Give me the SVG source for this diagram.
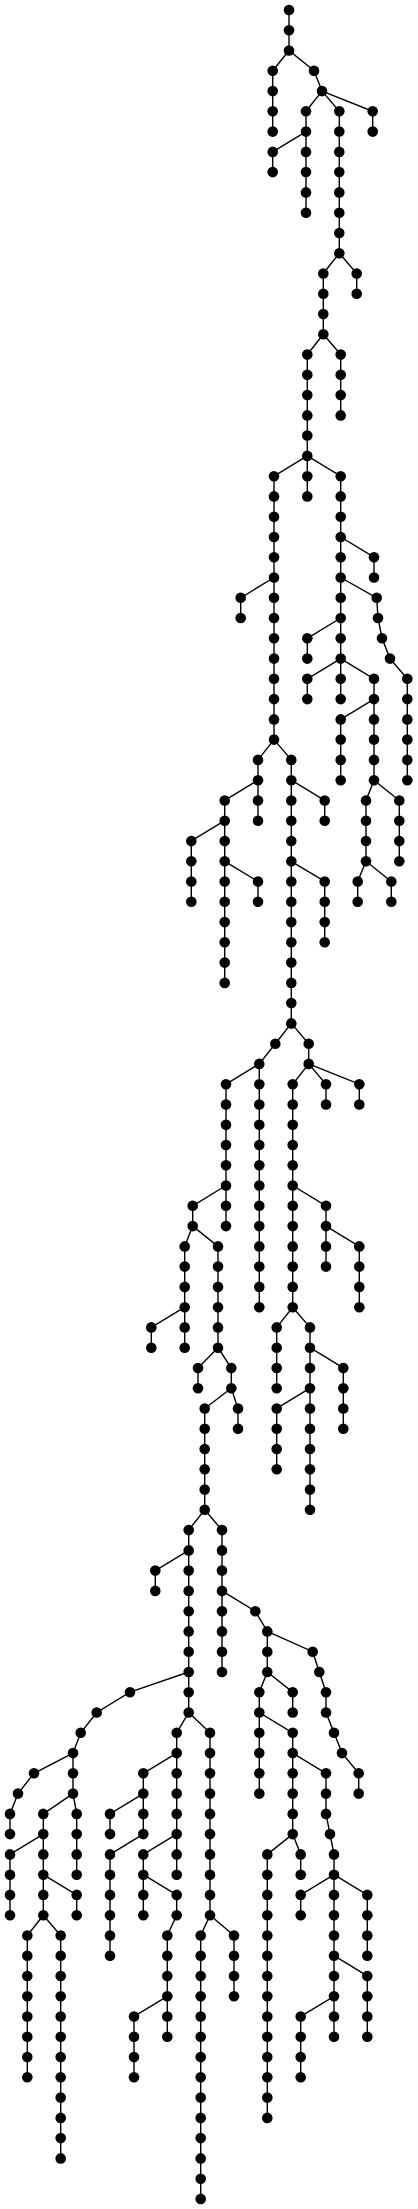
<svg xmlns="http://www.w3.org/2000/svg" width="418" height="2209" viewBox="0 0 418 2209">
<style>
.e polyline{fill:none;stroke:#000;stroke-width:1.4}
.n circle{fill:#000}
</style>
<rect width="418" height="2209" fill="#fff"/>
<g id="connectors" class="e">
<polyline points="289,10 289,50.5"/>
<polyline points="289,50.5 272.7,70.8 272.7,131.6"/>
<polyline points="289,50.5 314,70.8 322,91.1"/>
<polyline points="322,91.1 306,111.3 306,212.7"/>
<polyline points="306,131.6 272.7,151.9 272.7,172.1"/>
<polyline points="322,91.1 339.3,111.3 339.3,253.2"/>
<polyline points="322,91.1 372.7,111.3 372.7,131.6"/>
<polyline points="339.3,253.2 323.3,273.5 323.3,334.3"/>
<polyline points="339.3,253.2 356.7,273.5 356.7,293.8"/>
<polyline points="323.3,334.3 307.3,354.6 307.3,455.9"/>
<polyline points="323.3,334.3 340.7,354.6 340.7,415.4"/>
<polyline points="307.3,455.9 274,476.2 274,739.6"/>
<polyline points="274,577.5 240.7,597.8 240.7,618"/>
<polyline points="307.3,455.9 307.3,496.4"/>
<polyline points="307.3,455.9 340.7,476.2 340.7,699.1"/>
<polyline points="340.7,537 374,557.2 374,577.5"/>
<polyline points="340.7,577.5 376.7,597.8 378,618 382,638.3 390,658.6 407.3,678.8 407.3,780.2"/>
<polyline points="340.7,618 307.3,638.3 307.3,658.6"/>
<polyline points="340.7,658.6 307.3,678.8 307.3,699.1"/>
<polyline points="340.7,658.6 374,678.8 374,780.2"/>
<polyline points="374,699.1 340.7,719.4 340.7,780.2"/>
<polyline points="374,780.2 366,800.5 366,861.3"/>
<polyline points="374,780.2 399.3,800.5 399.3,861.3"/>
<polyline points="366,861.3 357.7,881.5 357.7,901.8"/>
<polyline points="366,861.3 391.3,881.5 391.3,901.8"/>
<polyline points="274,739.6 258,759.9 258,820.7"/>
<polyline points="258,780.2 224.7,800.5 224.7,982.9"/>
<polyline points="224.7,820.7 191.3,841 191.3,901.8"/>
<polyline points="224.7,861.3 258,881.5 258,901.8"/>
<polyline points="274,739.6 291.3,759.9 291.3,1023.4"/>
<polyline points="291.3,780.2 324.7,800.5 324.7,820.7"/>
<polyline points="291.3,861.3 324.7,881.5 324.7,942.3"/>
<polyline points="291.3,1023.4 275.3,1043.7 259.3,1063.9"/>
<polyline points="291.3,1023.4 308.7,1043.7 308.7,1063.9"/>
<polyline points="259.3,1063.9 226,1084.2 226,1226.1"/>
<polyline points="259.3,1063.9 259.3,1307.2"/>
<polyline points="308.7,1063.9 292.7,1084.2 292.7,1307.2"/>
<polyline points="308.7,1063.9 326,1084.2 326,1104.5"/>
<polyline points="308.7,1063.9 359.3,1084.2 359.3,1104.5"/>
<polyline points="226,1185.5 192.7,1205.8 192.7,1226.1"/>
<polyline points="192.7,1226.1 184.7,1246.4 184.7,1347.7"/>
<polyline points="192.7,1226.1 218,1246.4 218,1347.7"/>
<polyline points="292.7,1185.5 326,1205.8 326,1266.6"/>
<polyline points="326,1226.1 359.3,1246.4 359.3,1307.2"/>
<polyline points="184.7,1307.2 151.3,1327.4 151.3,1347.7"/>
<polyline points="292.7,1307.2 276.7,1327.4 276.7,1388.2"/>
<polyline points="292.7,1307.2 310,1327.4 310,1509.8"/>
<polyline points="218,1347.7 198,1368 198,1388.2"/>
<polyline points="218,1347.7 231.3,1368 231.3,1388.2"/>
<polyline points="231.3,1388.2 204.7,1408.5 204.7,1509.8"/>
<polyline points="231.3,1388.2 238,1408.5 238,1428.8"/>
<polyline points="310,1347.7 343.3,1368 343.3,1428.8"/>
<polyline points="310,1388.2 276.7,1408.5 276.7,1469.3"/>
<polyline points="204.7,1509.8 188.7,1530.1 188.7,1712.5"/>
<polyline points="204.7,1509.8 222,1530.1 222,1672"/>
<polyline points="188.7,1550.4 155.3,1570.6 155.3,1590.9"/>
<polyline points="222,1590.9 255.3,1611.2 267.3,1631.4"/>
<polyline points="267.3,1631.4 267.3,1672"/>
<polyline points="267.3,1631.4 312.7,1651.7 319.3,1672 326,1692.2 326,1712.5 334,1732.8 342,1753.1 358.7,1773.3 358.7,1793.6"/>
<polyline points="267.3,1672 259.3,1692.2 259.3,1793.6"/>
<polyline points="267.3,1672 292.7,1692.2 292.7,1712.5"/>
<polyline points="259.3,1712.5 292.7,1732.8 292.7,1834.1"/>
<polyline points="292.7,1753.1 326,1773.3 326,1813.9 330,1834.1 334,1854.4 334,1874.7"/>
<polyline points="334,1874.7 300.7,1894.9 300.7,1915.2"/>
<polyline points="334,1874.7 334,2036.8"/>
<polyline points="334,1874.7 367.3,1894.9 367.3,1955.7"/>
<polyline points="334,1955.7 367.3,1976 367.3,2036.8"/>
<polyline points="334,1996.3 300.7,2016.5 300.7,2077.3"/>
<polyline points="292.7,1834.1 267.3,1854.4 267.3,2117.9"/>
<polyline points="292.7,1834.1 300.7,1854.4 300.7,1874.7"/>
<polyline points="188.7,1672 130,1692.2 96.7,1712.5 80.7,1732.8 73,1753.1"/>
<polyline points="73,1753.1 34,1773.3 18,1793.6 10,1813.9 10,1834.1"/>
<polyline points="73,1753.1 73,1793.6"/>
<polyline points="73,1793.6 43.3,1813.9 43.3,1915.2"/>
<polyline points="73,1793.6 76.7,1813.9 76.7,1874.7"/>
<polyline points="43.3,1834.1 10,1854.4 10,1915.2"/>
<polyline points="43.3,1874.7 76.7,1894.9 76.7,1915.2"/>
<polyline points="43.3,1915.2 27.3,1935.5 27.3,2077.3"/>
<polyline points="43.3,1915.2 60.7,1935.5 60.7,2158.4"/>
<polyline points="188.7,1712.5 176.7,1732.8 176.7,1834.1"/>
<polyline points="188.7,1712.5 210,1732.8 210,1915.2"/>
<polyline points="176.7,1753.1 143.3,1773.3 143.3,1834.1"/>
<polyline points="143.3,1793.6 110,1813.9 110,1834.1"/>
<polyline points="143.3,1834.1 110,1854.4 110,1955.7"/>
<polyline points="176.7,1834.1 143.3,1854.4 143.3,1915.2"/>
<polyline points="176.7,1834.1 176.7,1874.7"/>
<polyline points="143.3,1874.7 176.7,1894.9 176.7,1915.2 167.3,1935.5 167.3,2036.8"/>
<polyline points="167.3,1996.3 134,2016.5 134,2077.3"/>
<polyline points="210,1915.2 200.7,1935.5 200.7,2198.9"/>
<polyline points="210,1915.2 234,1935.5 234,1996.3"/>
</g>
<g id="nodes" class="n">
<g id="n1"><circle cx="289" cy="10" r="5.3"/></g>
<g id="n2"><circle cx="289" cy="30.3" r="5.3"/></g>
<g id="n3"><circle cx="289" cy="50.5" r="5.3"/></g>
<g id="n4"><circle cx="272.7" cy="70.8" r="5.3"/></g>
<g id="n5"><circle cx="272.7" cy="91.1" r="5.3"/></g>
<g id="n6"><circle cx="272.7" cy="111.3" r="5.3"/></g>
<g id="n7"><circle cx="272.7" cy="131.6" r="5.3"/></g>
<g id="n8"><circle cx="314" cy="70.8" r="5.3"/></g>
<g id="n9"><circle cx="322" cy="91.1" r="5.3"/></g>
<g id="n10"><circle cx="306" cy="111.3" r="5.3"/></g>
<g id="n11"><circle cx="306" cy="131.6" r="5.3"/></g>
<g id="n12"><circle cx="306" cy="151.9" r="5.3"/></g>
<g id="n13"><circle cx="306" cy="172.1" r="5.3"/></g>
<g id="n14"><circle cx="306" cy="192.4" r="5.3"/></g>
<g id="n15"><circle cx="306" cy="212.7" r="5.3"/></g>
<g id="n16"><circle cx="272.7" cy="151.9" r="5.3"/></g>
<g id="n17"><circle cx="272.7" cy="172.1" r="5.3"/></g>
<g id="n18"><circle cx="339.3" cy="111.3" r="5.3"/></g>
<g id="n19"><circle cx="339.3" cy="131.6" r="5.3"/></g>
<g id="n20"><circle cx="339.3" cy="151.9" r="5.3"/></g>
<g id="n21"><circle cx="339.3" cy="172.1" r="5.3"/></g>
<g id="n22"><circle cx="339.3" cy="192.4" r="5.3"/></g>
<g id="n23"><circle cx="339.3" cy="212.7" r="5.3"/></g>
<g id="n24"><circle cx="339.3" cy="233" r="5.3"/></g>
<g id="n25"><circle cx="339.3" cy="253.2" r="5.3"/></g>
<g id="n26"><circle cx="372.7" cy="111.3" r="5.3"/></g>
<g id="n27"><circle cx="372.7" cy="131.6" r="5.3"/></g>
<g id="n28"><circle cx="323.3" cy="273.5" r="5.3"/></g>
<g id="n29"><circle cx="323.3" cy="293.8" r="5.3"/></g>
<g id="n30"><circle cx="323.3" cy="314" r="5.3"/></g>
<g id="n31"><circle cx="323.3" cy="334.3" r="5.3"/></g>
<g id="n32"><circle cx="356.7" cy="273.5" r="5.3"/></g>
<g id="n33"><circle cx="356.7" cy="293.8" r="5.3"/></g>
<g id="n34"><circle cx="307.3" cy="354.6" r="5.3"/></g>
<g id="n35"><circle cx="307.3" cy="374.8" r="5.3"/></g>
<g id="n36"><circle cx="307.3" cy="395.1" r="5.3"/></g>
<g id="n37"><circle cx="307.3" cy="415.4" r="5.3"/></g>
<g id="n38"><circle cx="307.3" cy="435.6" r="5.3"/></g>
<g id="n39"><circle cx="307.3" cy="455.9" r="5.3"/></g>
<g id="n40"><circle cx="340.7" cy="354.6" r="5.3"/></g>
<g id="n41"><circle cx="340.7" cy="374.8" r="5.3"/></g>
<g id="n42"><circle cx="340.7" cy="395.1" r="5.3"/></g>
<g id="n43"><circle cx="340.7" cy="415.4" r="5.3"/></g>
<g id="n44"><circle cx="274" cy="476.2" r="5.3"/></g>
<g id="n45"><circle cx="274" cy="496.4" r="5.3"/></g>
<g id="n46"><circle cx="274" cy="516.7" r="5.3"/></g>
<g id="n47"><circle cx="274" cy="537" r="5.3"/></g>
<g id="n48"><circle cx="274" cy="557.2" r="5.3"/></g>
<g id="n49"><circle cx="274" cy="577.5" r="5.3"/></g>
<g id="n50"><circle cx="274" cy="597.8" r="5.3"/></g>
<g id="n51"><circle cx="274" cy="618" r="5.3"/></g>
<g id="n52"><circle cx="274" cy="638.3" r="5.3"/></g>
<g id="n53"><circle cx="274" cy="658.6" r="5.3"/></g>
<g id="n54"><circle cx="274" cy="678.8" r="5.3"/></g>
<g id="n55"><circle cx="274" cy="699.1" r="5.3"/></g>
<g id="n56"><circle cx="274" cy="719.4" r="5.3"/></g>
<g id="n57"><circle cx="274" cy="739.6" r="5.3"/></g>
<g id="n58"><circle cx="240.7" cy="597.8" r="5.3"/></g>
<g id="n59"><circle cx="240.7" cy="618" r="5.3"/></g>
<g id="n60"><circle cx="307.3" cy="476.2" r="5.3"/></g>
<g id="n61"><circle cx="307.3" cy="496.4" r="5.3"/></g>
<g id="n62"><circle cx="340.7" cy="476.2" r="5.3"/></g>
<g id="n63"><circle cx="340.7" cy="496.4" r="5.3"/></g>
<g id="n64"><circle cx="340.7" cy="516.7" r="5.3"/></g>
<g id="n65"><circle cx="340.7" cy="537" r="5.3"/></g>
<g id="n66"><circle cx="340.7" cy="557.2" r="5.3"/></g>
<g id="n67"><circle cx="340.7" cy="577.5" r="5.3"/></g>
<g id="n68"><circle cx="340.7" cy="597.8" r="5.3"/></g>
<g id="n69"><circle cx="340.7" cy="618" r="5.3"/></g>
<g id="n70"><circle cx="340.7" cy="638.3" r="5.3"/></g>
<g id="n71"><circle cx="340.7" cy="658.6" r="5.3"/></g>
<g id="n72"><circle cx="340.7" cy="678.8" r="5.3"/></g>
<g id="n73"><circle cx="340.7" cy="699.1" r="5.3"/></g>
<g id="n74"><circle cx="374" cy="557.2" r="5.3"/></g>
<g id="n75"><circle cx="374" cy="577.5" r="5.3"/></g>
<g id="n76"><circle cx="376.7" cy="597.8" r="5.3"/></g>
<g id="n77"><circle cx="378" cy="618" r="5.3"/></g>
<g id="n78"><circle cx="382" cy="638.3" r="5.3"/></g>
<g id="n79"><circle cx="390" cy="658.6" r="5.3"/></g>
<g id="n80"><circle cx="407.3" cy="678.8" r="5.3"/></g>
<g id="n81"><circle cx="407.3" cy="699.1" r="5.3"/></g>
<g id="n82"><circle cx="407.3" cy="719.4" r="5.3"/></g>
<g id="n83"><circle cx="407.3" cy="739.6" r="5.3"/></g>
<g id="n84"><circle cx="407.3" cy="759.9" r="5.3"/></g>
<g id="n85"><circle cx="407.3" cy="780.2" r="5.3"/></g>
<g id="n86"><circle cx="307.3" cy="638.3" r="5.3"/></g>
<g id="n87"><circle cx="307.3" cy="658.6" r="5.3"/></g>
<g id="n88"><circle cx="307.3" cy="678.8" r="5.3"/></g>
<g id="n89"><circle cx="307.3" cy="699.1" r="5.3"/></g>
<g id="n90"><circle cx="374" cy="678.8" r="5.3"/></g>
<g id="n91"><circle cx="374" cy="699.1" r="5.3"/></g>
<g id="n92"><circle cx="374" cy="719.4" r="5.3"/></g>
<g id="n93"><circle cx="374" cy="739.6" r="5.3"/></g>
<g id="n94"><circle cx="374" cy="759.9" r="5.3"/></g>
<g id="n95"><circle cx="374" cy="780.2" r="5.3"/></g>
<g id="n96"><circle cx="340.7" cy="719.4" r="5.3"/></g>
<g id="n97"><circle cx="340.7" cy="739.6" r="5.3"/></g>
<g id="n98"><circle cx="340.7" cy="759.9" r="5.3"/></g>
<g id="n99"><circle cx="340.7" cy="780.2" r="5.3"/></g>
<g id="n100"><circle cx="366" cy="800.5" r="5.3"/></g>
<g id="n101"><circle cx="366" cy="820.7" r="5.3"/></g>
<g id="n102"><circle cx="366" cy="841" r="5.3"/></g>
<g id="n103"><circle cx="366" cy="861.3" r="5.3"/></g>
<g id="n104"><circle cx="399.3" cy="800.5" r="5.3"/></g>
<g id="n105"><circle cx="399.3" cy="820.7" r="5.3"/></g>
<g id="n106"><circle cx="399.3" cy="841" r="5.3"/></g>
<g id="n107"><circle cx="399.3" cy="861.3" r="5.3"/></g>
<g id="n108"><circle cx="357.7" cy="881.5" r="5.3"/></g>
<g id="n109"><circle cx="357.7" cy="901.8" r="5.3"/></g>
<g id="n110"><circle cx="391.3" cy="881.5" r="5.3"/></g>
<g id="n111"><circle cx="391.3" cy="901.8" r="5.3"/></g>
<g id="n112"><circle cx="258" cy="759.9" r="5.3"/></g>
<g id="n113"><circle cx="258" cy="780.2" r="5.3"/></g>
<g id="n114"><circle cx="258" cy="800.5" r="5.3"/></g>
<g id="n115"><circle cx="258" cy="820.7" r="5.3"/></g>
<g id="n116"><circle cx="224.7" cy="800.5" r="5.3"/></g>
<g id="n117"><circle cx="224.7" cy="820.7" r="5.3"/></g>
<g id="n118"><circle cx="224.7" cy="841" r="5.3"/></g>
<g id="n119"><circle cx="224.7" cy="861.3" r="5.3"/></g>
<g id="n120"><circle cx="224.7" cy="881.5" r="5.3"/></g>
<g id="n121"><circle cx="224.7" cy="901.8" r="5.3"/></g>
<g id="n122"><circle cx="224.7" cy="922.1" r="5.3"/></g>
<g id="n123"><circle cx="224.7" cy="942.3" r="5.3"/></g>
<g id="n124"><circle cx="224.7" cy="962.6" r="5.3"/></g>
<g id="n125"><circle cx="224.7" cy="982.9" r="5.3"/></g>
<g id="n126"><circle cx="191.3" cy="841" r="5.3"/></g>
<g id="n127"><circle cx="191.3" cy="861.3" r="5.3"/></g>
<g id="n128"><circle cx="191.3" cy="881.5" r="5.3"/></g>
<g id="n129"><circle cx="191.3" cy="901.8" r="5.3"/></g>
<g id="n130"><circle cx="258" cy="881.5" r="5.3"/></g>
<g id="n131"><circle cx="258" cy="901.8" r="5.3"/></g>
<g id="n132"><circle cx="291.3" cy="759.9" r="5.3"/></g>
<g id="n133"><circle cx="291.3" cy="780.2" r="5.3"/></g>
<g id="n134"><circle cx="291.3" cy="800.5" r="5.3"/></g>
<g id="n135"><circle cx="291.3" cy="820.7" r="5.3"/></g>
<g id="n136"><circle cx="291.3" cy="841" r="5.3"/></g>
<g id="n137"><circle cx="291.3" cy="861.3" r="5.3"/></g>
<g id="n138"><circle cx="291.3" cy="881.5" r="5.3"/></g>
<g id="n139"><circle cx="291.3" cy="901.8" r="5.3"/></g>
<g id="n140"><circle cx="291.3" cy="922.1" r="5.3"/></g>
<g id="n141"><circle cx="291.3" cy="942.3" r="5.3"/></g>
<g id="n142"><circle cx="291.3" cy="962.6" r="5.3"/></g>
<g id="n143"><circle cx="291.3" cy="982.9" r="5.3"/></g>
<g id="n144"><circle cx="291.3" cy="1003.1" r="5.3"/></g>
<g id="n145"><circle cx="291.3" cy="1023.4" r="5.3"/></g>
<g id="n146"><circle cx="324.7" cy="800.5" r="5.3"/></g>
<g id="n147"><circle cx="324.7" cy="820.7" r="5.3"/></g>
<g id="n148"><circle cx="324.7" cy="881.5" r="5.3"/></g>
<g id="n149"><circle cx="324.7" cy="901.8" r="5.3"/></g>
<g id="n150"><circle cx="324.7" cy="922.1" r="5.3"/></g>
<g id="n151"><circle cx="324.7" cy="942.3" r="5.3"/></g>
<g id="n152"><circle cx="275.3" cy="1043.7" r="5.3"/></g>
<g id="n153"><circle cx="259.3" cy="1063.9" r="5.3"/></g>
<g id="n154"><circle cx="308.7" cy="1043.7" r="5.3"/></g>
<g id="n155"><circle cx="308.7" cy="1063.9" r="5.3"/></g>
<g id="n156"><circle cx="226" cy="1084.2" r="5.3"/></g>
<g id="n157"><circle cx="226" cy="1104.5" r="5.3"/></g>
<g id="n158"><circle cx="226" cy="1124.7" r="5.3"/></g>
<g id="n159"><circle cx="226" cy="1145" r="5.3"/></g>
<g id="n160"><circle cx="226" cy="1165.3" r="5.3"/></g>
<g id="n161"><circle cx="226" cy="1185.5" r="5.3"/></g>
<g id="n162"><circle cx="226" cy="1205.8" r="5.3"/></g>
<g id="n163"><circle cx="226" cy="1226.1" r="5.3"/></g>
<g id="n164"><circle cx="259.3" cy="1084.2" r="5.3"/></g>
<g id="n165"><circle cx="259.3" cy="1104.5" r="5.3"/></g>
<g id="n166"><circle cx="259.3" cy="1124.7" r="5.3"/></g>
<g id="n167"><circle cx="259.3" cy="1145" r="5.3"/></g>
<g id="n168"><circle cx="259.3" cy="1165.3" r="5.3"/></g>
<g id="n169"><circle cx="259.3" cy="1185.5" r="5.3"/></g>
<g id="n170"><circle cx="259.3" cy="1205.8" r="5.3"/></g>
<g id="n171"><circle cx="259.3" cy="1226.1" r="5.3"/></g>
<g id="n172"><circle cx="259.3" cy="1246.4" r="5.3"/></g>
<g id="n173"><circle cx="259.3" cy="1266.6" r="5.3"/></g>
<g id="n174"><circle cx="259.3" cy="1286.9" r="5.3"/></g>
<g id="n175"><circle cx="259.3" cy="1307.2" r="5.3"/></g>
<g id="n176"><circle cx="292.7" cy="1084.2" r="5.3"/></g>
<g id="n177"><circle cx="292.7" cy="1104.5" r="5.3"/></g>
<g id="n178"><circle cx="292.7" cy="1124.7" r="5.3"/></g>
<g id="n179"><circle cx="292.7" cy="1145" r="5.3"/></g>
<g id="n180"><circle cx="292.7" cy="1165.3" r="5.3"/></g>
<g id="n181"><circle cx="292.7" cy="1185.5" r="5.3"/></g>
<g id="n182"><circle cx="292.7" cy="1205.8" r="5.3"/></g>
<g id="n183"><circle cx="292.7" cy="1226.1" r="5.3"/></g>
<g id="n184"><circle cx="292.7" cy="1246.4" r="5.3"/></g>
<g id="n185"><circle cx="292.7" cy="1266.6" r="5.3"/></g>
<g id="n186"><circle cx="292.7" cy="1286.9" r="5.3"/></g>
<g id="n187"><circle cx="292.7" cy="1307.2" r="5.3"/></g>
<g id="n188"><circle cx="326" cy="1084.2" r="5.3"/></g>
<g id="n189"><circle cx="326" cy="1104.5" r="5.3"/></g>
<g id="n190"><circle cx="359.3" cy="1084.2" r="5.3"/></g>
<g id="n191"><circle cx="359.3" cy="1104.5" r="5.3"/></g>
<g id="n192"><circle cx="192.7" cy="1205.8" r="5.3"/></g>
<g id="n193"><circle cx="192.7" cy="1226.1" r="5.3"/></g>
<g id="n194"><circle cx="184.7" cy="1246.4" r="5.3"/></g>
<g id="n195"><circle cx="184.7" cy="1266.6" r="5.3"/></g>
<g id="n196"><circle cx="184.7" cy="1286.9" r="5.3"/></g>
<g id="n197"><circle cx="184.7" cy="1307.2" r="5.3"/></g>
<g id="n198"><circle cx="184.7" cy="1327.4" r="5.3"/></g>
<g id="n199"><circle cx="184.7" cy="1347.7" r="5.3"/></g>
<g id="n200"><circle cx="218" cy="1246.4" r="5.3"/></g>
<g id="n201"><circle cx="218" cy="1266.6" r="5.3"/></g>
<g id="n202"><circle cx="218" cy="1286.9" r="5.3"/></g>
<g id="n203"><circle cx="218" cy="1307.2" r="5.3"/></g>
<g id="n204"><circle cx="218" cy="1327.4" r="5.3"/></g>
<g id="n205"><circle cx="218" cy="1347.7" r="5.3"/></g>
<g id="n206"><circle cx="326" cy="1205.8" r="5.3"/></g>
<g id="n207"><circle cx="326" cy="1226.1" r="5.3"/></g>
<g id="n208"><circle cx="326" cy="1246.4" r="5.3"/></g>
<g id="n209"><circle cx="326" cy="1266.6" r="5.3"/></g>
<g id="n210"><circle cx="359.3" cy="1246.4" r="5.3"/></g>
<g id="n211"><circle cx="359.3" cy="1266.6" r="5.3"/></g>
<g id="n212"><circle cx="359.3" cy="1286.9" r="5.3"/></g>
<g id="n213"><circle cx="359.3" cy="1307.2" r="5.3"/></g>
<g id="n214"><circle cx="151.3" cy="1327.4" r="5.3"/></g>
<g id="n215"><circle cx="151.3" cy="1347.7" r="5.3"/></g>
<g id="n216"><circle cx="276.7" cy="1327.4" r="5.3"/></g>
<g id="n217"><circle cx="276.7" cy="1347.7" r="5.3"/></g>
<g id="n218"><circle cx="276.7" cy="1368" r="5.3"/></g>
<g id="n219"><circle cx="276.7" cy="1388.2" r="5.3"/></g>
<g id="n220"><circle cx="310" cy="1327.4" r="5.3"/></g>
<g id="n221"><circle cx="310" cy="1347.7" r="5.3"/></g>
<g id="n222"><circle cx="310" cy="1368" r="5.3"/></g>
<g id="n223"><circle cx="310" cy="1388.2" r="5.3"/></g>
<g id="n224"><circle cx="310" cy="1408.5" r="5.3"/></g>
<g id="n225"><circle cx="310" cy="1428.8" r="5.3"/></g>
<g id="n226"><circle cx="310" cy="1449" r="5.3"/></g>
<g id="n227"><circle cx="310" cy="1469.3" r="5.3"/></g>
<g id="n228"><circle cx="310" cy="1489.6" r="5.3"/></g>
<g id="n229"><circle cx="310" cy="1509.8" r="5.3"/></g>
<g id="n230"><circle cx="198" cy="1368" r="5.3"/></g>
<g id="n231"><circle cx="198" cy="1388.2" r="5.3"/></g>
<g id="n232"><circle cx="231.3" cy="1368" r="5.3"/></g>
<g id="n233"><circle cx="231.3" cy="1388.2" r="5.3"/></g>
<g id="n234"><circle cx="204.7" cy="1408.5" r="5.3"/></g>
<g id="n235"><circle cx="204.7" cy="1428.8" r="5.3"/></g>
<g id="n236"><circle cx="204.7" cy="1449" r="5.3"/></g>
<g id="n237"><circle cx="204.7" cy="1469.3" r="5.3"/></g>
<g id="n238"><circle cx="204.7" cy="1489.6" r="5.3"/></g>
<g id="n239"><circle cx="204.7" cy="1509.8" r="5.3"/></g>
<g id="n240"><circle cx="238" cy="1408.5" r="5.3"/></g>
<g id="n241"><circle cx="238" cy="1428.8" r="5.3"/></g>
<g id="n242"><circle cx="343.3" cy="1368" r="5.3"/></g>
<g id="n243"><circle cx="343.3" cy="1388.2" r="5.3"/></g>
<g id="n244"><circle cx="343.3" cy="1408.5" r="5.3"/></g>
<g id="n245"><circle cx="343.3" cy="1428.8" r="5.3"/></g>
<g id="n246"><circle cx="276.7" cy="1408.5" r="5.3"/></g>
<g id="n247"><circle cx="276.7" cy="1428.8" r="5.3"/></g>
<g id="n248"><circle cx="276.7" cy="1449" r="5.3"/></g>
<g id="n249"><circle cx="276.7" cy="1469.3" r="5.3"/></g>
<g id="n250"><circle cx="188.7" cy="1530.1" r="5.3"/></g>
<g id="n251"><circle cx="188.7" cy="1550.4" r="5.3"/></g>
<g id="n252"><circle cx="188.7" cy="1570.6" r="5.3"/></g>
<g id="n253"><circle cx="188.7" cy="1590.9" r="5.3"/></g>
<g id="n254"><circle cx="188.7" cy="1611.2" r="5.3"/></g>
<g id="n255"><circle cx="188.7" cy="1631.4" r="5.3"/></g>
<g id="n256"><circle cx="188.7" cy="1651.7" r="5.3"/></g>
<g id="n257"><circle cx="188.7" cy="1672" r="5.3"/></g>
<g id="n258"><circle cx="188.7" cy="1692.2" r="5.3"/></g>
<g id="n259"><circle cx="188.7" cy="1712.5" r="5.3"/></g>
<g id="n260"><circle cx="222" cy="1530.1" r="5.3"/></g>
<g id="n261"><circle cx="222" cy="1550.4" r="5.3"/></g>
<g id="n262"><circle cx="222" cy="1570.6" r="5.3"/></g>
<g id="n263"><circle cx="222" cy="1590.9" r="5.3"/></g>
<g id="n264"><circle cx="222" cy="1611.2" r="5.3"/></g>
<g id="n265"><circle cx="222" cy="1631.4" r="5.3"/></g>
<g id="n266"><circle cx="222" cy="1651.7" r="5.3"/></g>
<g id="n267"><circle cx="222" cy="1672" r="5.3"/></g>
<g id="n268"><circle cx="155.3" cy="1570.6" r="5.3"/></g>
<g id="n269"><circle cx="155.3" cy="1590.9" r="5.3"/></g>
<g id="n270"><circle cx="255.3" cy="1611.2" r="5.3"/></g>
<g id="n271"><circle cx="267.3" cy="1631.4" r="5.3"/></g>
<g id="n272"><circle cx="267.3" cy="1651.7" r="5.3"/></g>
<g id="n273"><circle cx="267.3" cy="1672" r="5.3"/></g>
<g id="n274"><circle cx="312.7" cy="1651.7" r="5.3"/></g>
<g id="n275"><circle cx="319.3" cy="1672" r="5.3"/></g>
<g id="n276"><circle cx="326" cy="1692.2" r="5.3"/></g>
<g id="n277"><circle cx="326" cy="1712.5" r="5.3"/></g>
<g id="n278"><circle cx="334" cy="1732.8" r="5.3"/></g>
<g id="n279"><circle cx="342" cy="1753.1" r="5.3"/></g>
<g id="n280"><circle cx="358.7" cy="1773.3" r="5.3"/></g>
<g id="n281"><circle cx="358.7" cy="1793.6" r="5.3"/></g>
<g id="n282"><circle cx="259.3" cy="1692.2" r="5.3"/></g>
<g id="n283"><circle cx="259.3" cy="1712.5" r="5.3"/></g>
<g id="n284"><circle cx="259.3" cy="1732.8" r="5.3"/></g>
<g id="n285"><circle cx="259.3" cy="1753.1" r="5.3"/></g>
<g id="n286"><circle cx="259.3" cy="1773.3" r="5.3"/></g>
<g id="n287"><circle cx="259.3" cy="1793.6" r="5.3"/></g>
<g id="n288"><circle cx="292.7" cy="1692.2" r="5.3"/></g>
<g id="n289"><circle cx="292.7" cy="1712.5" r="5.3"/></g>
<g id="n290"><circle cx="292.7" cy="1732.8" r="5.3"/></g>
<g id="n291"><circle cx="292.7" cy="1753.1" r="5.3"/></g>
<g id="n292"><circle cx="292.7" cy="1773.3" r="5.3"/></g>
<g id="n293"><circle cx="292.7" cy="1793.6" r="5.3"/></g>
<g id="n294"><circle cx="292.7" cy="1813.9" r="5.3"/></g>
<g id="n295"><circle cx="292.7" cy="1834.1" r="5.3"/></g>
<g id="n296"><circle cx="326" cy="1773.3" r="5.3"/></g>
<g id="n297"><circle cx="326" cy="1793.6" r="5.3"/></g>
<g id="n298"><circle cx="326" cy="1813.9" r="5.3"/></g>
<g id="n299"><circle cx="330" cy="1834.1" r="5.3"/></g>
<g id="n300"><circle cx="334" cy="1854.4" r="5.3"/></g>
<g id="n301"><circle cx="334" cy="1874.7" r="5.3"/></g>
<g id="n302"><circle cx="300.7" cy="1894.9" r="5.3"/></g>
<g id="n303"><circle cx="300.7" cy="1915.2" r="5.3"/></g>
<g id="n304"><circle cx="334" cy="1894.9" r="5.3"/></g>
<g id="n305"><circle cx="334" cy="1915.2" r="5.3"/></g>
<g id="n306"><circle cx="334" cy="1935.5" r="5.3"/></g>
<g id="n307"><circle cx="334" cy="1955.7" r="5.3"/></g>
<g id="n308"><circle cx="334" cy="1976" r="5.3"/></g>
<g id="n309"><circle cx="334" cy="1996.3" r="5.3"/></g>
<g id="n310"><circle cx="334" cy="2016.5" r="5.3"/></g>
<g id="n311"><circle cx="334" cy="2036.8" r="5.3"/></g>
<g id="n312"><circle cx="367.3" cy="1894.9" r="5.3"/></g>
<g id="n313"><circle cx="367.3" cy="1915.2" r="5.3"/></g>
<g id="n314"><circle cx="367.3" cy="1935.5" r="5.3"/></g>
<g id="n315"><circle cx="367.3" cy="1955.7" r="5.3"/></g>
<g id="n316"><circle cx="367.3" cy="1976" r="5.3"/></g>
<g id="n317"><circle cx="367.3" cy="1996.3" r="5.3"/></g>
<g id="n318"><circle cx="367.3" cy="2016.5" r="5.3"/></g>
<g id="n319"><circle cx="367.3" cy="2036.8" r="5.3"/></g>
<g id="n320"><circle cx="300.7" cy="2016.5" r="5.3"/></g>
<g id="n321"><circle cx="300.7" cy="2036.8" r="5.3"/></g>
<g id="n322"><circle cx="300.7" cy="2057.1" r="5.3"/></g>
<g id="n323"><circle cx="300.7" cy="2077.3" r="5.3"/></g>
<g id="n324"><circle cx="267.3" cy="1854.4" r="5.3"/></g>
<g id="n325"><circle cx="267.3" cy="1874.7" r="5.3"/></g>
<g id="n326"><circle cx="267.3" cy="1894.9" r="5.3"/></g>
<g id="n327"><circle cx="267.3" cy="1915.2" r="5.3"/></g>
<g id="n328"><circle cx="267.3" cy="1935.5" r="5.3"/></g>
<g id="n329"><circle cx="267.3" cy="1955.7" r="5.3"/></g>
<g id="n330"><circle cx="267.3" cy="1976" r="5.3"/></g>
<g id="n331"><circle cx="267.3" cy="1996.3" r="5.3"/></g>
<g id="n332"><circle cx="267.3" cy="2016.5" r="5.3"/></g>
<g id="n333"><circle cx="267.3" cy="2036.8" r="5.3"/></g>
<g id="n334"><circle cx="267.3" cy="2057.1" r="5.3"/></g>
<g id="n335"><circle cx="267.3" cy="2077.3" r="5.3"/></g>
<g id="n336"><circle cx="267.3" cy="2097.6" r="5.3"/></g>
<g id="n337"><circle cx="267.3" cy="2117.9" r="5.3"/></g>
<g id="n338"><circle cx="300.7" cy="1854.4" r="5.3"/></g>
<g id="n339"><circle cx="300.7" cy="1874.7" r="5.3"/></g>
<g id="n340"><circle cx="130" cy="1692.2" r="5.3"/></g>
<g id="n341"><circle cx="96.7" cy="1712.5" r="5.3"/></g>
<g id="n342"><circle cx="80.7" cy="1732.8" r="5.3"/></g>
<g id="n343"><circle cx="73" cy="1753.1" r="5.3"/></g>
<g id="n344"><circle cx="34" cy="1773.3" r="5.3"/></g>
<g id="n345"><circle cx="18" cy="1793.6" r="5.3"/></g>
<g id="n346"><circle cx="10" cy="1813.9" r="5.3"/></g>
<g id="n347"><circle cx="10" cy="1834.1" r="5.3"/></g>
<g id="n348"><circle cx="73" cy="1773.3" r="5.3"/></g>
<g id="n349"><circle cx="73" cy="1793.6" r="5.3"/></g>
<g id="n350"><circle cx="43.3" cy="1813.9" r="5.3"/></g>
<g id="n351"><circle cx="43.3" cy="1834.1" r="5.3"/></g>
<g id="n352"><circle cx="43.3" cy="1854.4" r="5.3"/></g>
<g id="n353"><circle cx="43.3" cy="1874.7" r="5.3"/></g>
<g id="n354"><circle cx="43.3" cy="1894.9" r="5.3"/></g>
<g id="n355"><circle cx="43.3" cy="1915.2" r="5.3"/></g>
<g id="n356"><circle cx="76.7" cy="1813.9" r="5.3"/></g>
<g id="n357"><circle cx="76.7" cy="1834.1" r="5.3"/></g>
<g id="n358"><circle cx="76.7" cy="1854.4" r="5.3"/></g>
<g id="n359"><circle cx="76.7" cy="1874.7" r="5.3"/></g>
<g id="n360"><circle cx="10" cy="1854.4" r="5.3"/></g>
<g id="n361"><circle cx="10" cy="1874.7" r="5.3"/></g>
<g id="n362"><circle cx="10" cy="1894.9" r="5.3"/></g>
<g id="n363"><circle cx="10" cy="1915.2" r="5.3"/></g>
<g id="n364"><circle cx="76.7" cy="1894.9" r="5.3"/></g>
<g id="n365"><circle cx="76.7" cy="1915.2" r="5.3"/></g>
<g id="n366"><circle cx="27.3" cy="1935.5" r="5.3"/></g>
<g id="n367"><circle cx="27.3" cy="1955.7" r="5.3"/></g>
<g id="n368"><circle cx="27.3" cy="1976" r="5.3"/></g>
<g id="n369"><circle cx="27.3" cy="1996.3" r="5.3"/></g>
<g id="n370"><circle cx="27.3" cy="2016.5" r="5.3"/></g>
<g id="n371"><circle cx="27.3" cy="2036.8" r="5.3"/></g>
<g id="n372"><circle cx="27.3" cy="2057.1" r="5.3"/></g>
<g id="n373"><circle cx="27.3" cy="2077.3" r="5.3"/></g>
<g id="n374"><circle cx="60.7" cy="1935.5" r="5.3"/></g>
<g id="n375"><circle cx="60.7" cy="1955.7" r="5.3"/></g>
<g id="n376"><circle cx="60.7" cy="1976" r="5.3"/></g>
<g id="n377"><circle cx="60.7" cy="1996.3" r="5.3"/></g>
<g id="n378"><circle cx="60.7" cy="2016.5" r="5.3"/></g>
<g id="n379"><circle cx="60.7" cy="2036.8" r="5.3"/></g>
<g id="n380"><circle cx="60.7" cy="2057.1" r="5.3"/></g>
<g id="n381"><circle cx="60.7" cy="2077.3" r="5.3"/></g>
<g id="n382"><circle cx="60.7" cy="2097.6" r="5.3"/></g>
<g id="n383"><circle cx="60.7" cy="2117.9" r="5.3"/></g>
<g id="n384"><circle cx="60.7" cy="2138.1" r="5.3"/></g>
<g id="n385"><circle cx="60.7" cy="2158.4" r="5.3"/></g>
<g id="n386"><circle cx="176.7" cy="1732.8" r="5.3"/></g>
<g id="n387"><circle cx="176.7" cy="1753.1" r="5.3"/></g>
<g id="n388"><circle cx="176.7" cy="1773.3" r="5.3"/></g>
<g id="n389"><circle cx="176.7" cy="1793.6" r="5.3"/></g>
<g id="n390"><circle cx="176.7" cy="1813.9" r="5.3"/></g>
<g id="n391"><circle cx="176.7" cy="1834.1" r="5.3"/></g>
<g id="n392"><circle cx="210" cy="1732.8" r="5.3"/></g>
<g id="n393"><circle cx="210" cy="1753.1" r="5.3"/></g>
<g id="n394"><circle cx="210" cy="1773.3" r="5.3"/></g>
<g id="n395"><circle cx="210" cy="1793.6" r="5.3"/></g>
<g id="n396"><circle cx="210" cy="1813.9" r="5.3"/></g>
<g id="n397"><circle cx="210" cy="1834.1" r="5.3"/></g>
<g id="n398"><circle cx="210" cy="1854.4" r="5.3"/></g>
<g id="n399"><circle cx="210" cy="1874.7" r="5.3"/></g>
<g id="n400"><circle cx="210" cy="1894.9" r="5.3"/></g>
<g id="n401"><circle cx="210" cy="1915.2" r="5.3"/></g>
<g id="n402"><circle cx="143.3" cy="1773.3" r="5.3"/></g>
<g id="n403"><circle cx="143.3" cy="1793.6" r="5.3"/></g>
<g id="n404"><circle cx="143.3" cy="1813.9" r="5.3"/></g>
<g id="n405"><circle cx="143.3" cy="1834.1" r="5.3"/></g>
<g id="n406"><circle cx="110" cy="1813.9" r="5.3"/></g>
<g id="n407"><circle cx="110" cy="1834.1" r="5.3"/></g>
<g id="n408"><circle cx="110" cy="1854.4" r="5.3"/></g>
<g id="n409"><circle cx="110" cy="1874.7" r="5.3"/></g>
<g id="n410"><circle cx="110" cy="1894.9" r="5.3"/></g>
<g id="n411"><circle cx="110" cy="1915.2" r="5.3"/></g>
<g id="n412"><circle cx="110" cy="1935.5" r="5.3"/></g>
<g id="n413"><circle cx="110" cy="1955.7" r="5.3"/></g>
<g id="n414"><circle cx="143.3" cy="1854.4" r="5.3"/></g>
<g id="n415"><circle cx="143.3" cy="1874.7" r="5.3"/></g>
<g id="n416"><circle cx="143.3" cy="1894.9" r="5.3"/></g>
<g id="n417"><circle cx="143.3" cy="1915.2" r="5.3"/></g>
<g id="n418"><circle cx="176.7" cy="1854.4" r="5.3"/></g>
<g id="n419"><circle cx="176.7" cy="1874.7" r="5.3"/></g>
<g id="n420"><circle cx="176.7" cy="1894.9" r="5.3"/></g>
<g id="n421"><circle cx="176.7" cy="1915.2" r="5.3"/></g>
<g id="n422"><circle cx="167.3" cy="1935.5" r="5.3"/></g>
<g id="n423"><circle cx="167.3" cy="1955.7" r="5.3"/></g>
<g id="n424"><circle cx="167.3" cy="1976" r="5.3"/></g>
<g id="n425"><circle cx="167.3" cy="1996.3" r="5.3"/></g>
<g id="n426"><circle cx="167.3" cy="2016.5" r="5.3"/></g>
<g id="n427"><circle cx="167.3" cy="2036.8" r="5.3"/></g>
<g id="n428"><circle cx="134" cy="2016.5" r="5.3"/></g>
<g id="n429"><circle cx="134" cy="2036.8" r="5.3"/></g>
<g id="n430"><circle cx="134" cy="2057.1" r="5.3"/></g>
<g id="n431"><circle cx="134" cy="2077.3" r="5.3"/></g>
<g id="n432"><circle cx="200.7" cy="1935.5" r="5.3"/></g>
<g id="n433"><circle cx="200.7" cy="1955.7" r="5.3"/></g>
<g id="n434"><circle cx="200.7" cy="1976" r="5.3"/></g>
<g id="n435"><circle cx="200.7" cy="1996.3" r="5.3"/></g>
<g id="n436"><circle cx="200.7" cy="2016.5" r="5.3"/></g>
<g id="n437"><circle cx="200.7" cy="2036.8" r="5.3"/></g>
<g id="n438"><circle cx="200.7" cy="2057.1" r="5.3"/></g>
<g id="n439"><circle cx="200.7" cy="2077.3" r="5.3"/></g>
<g id="n440"><circle cx="200.7" cy="2097.6" r="5.3"/></g>
<g id="n441"><circle cx="200.7" cy="2117.9" r="5.3"/></g>
<g id="n442"><circle cx="200.7" cy="2138.1" r="5.3"/></g>
<g id="n443"><circle cx="200.7" cy="2158.4" r="5.3"/></g>
<g id="n444"><circle cx="200.7" cy="2178.7" r="5.3"/></g>
<g id="n445"><circle cx="200.7" cy="2198.9" r="5.3"/></g>
<g id="n446"><circle cx="234" cy="1935.5" r="5.3"/></g>
<g id="n447"><circle cx="234" cy="1955.7" r="5.3"/></g>
<g id="n448"><circle cx="234" cy="1976" r="5.3"/></g>
<g id="n449"><circle cx="234" cy="1996.3" r="5.3"/></g>
</g>
</svg>
